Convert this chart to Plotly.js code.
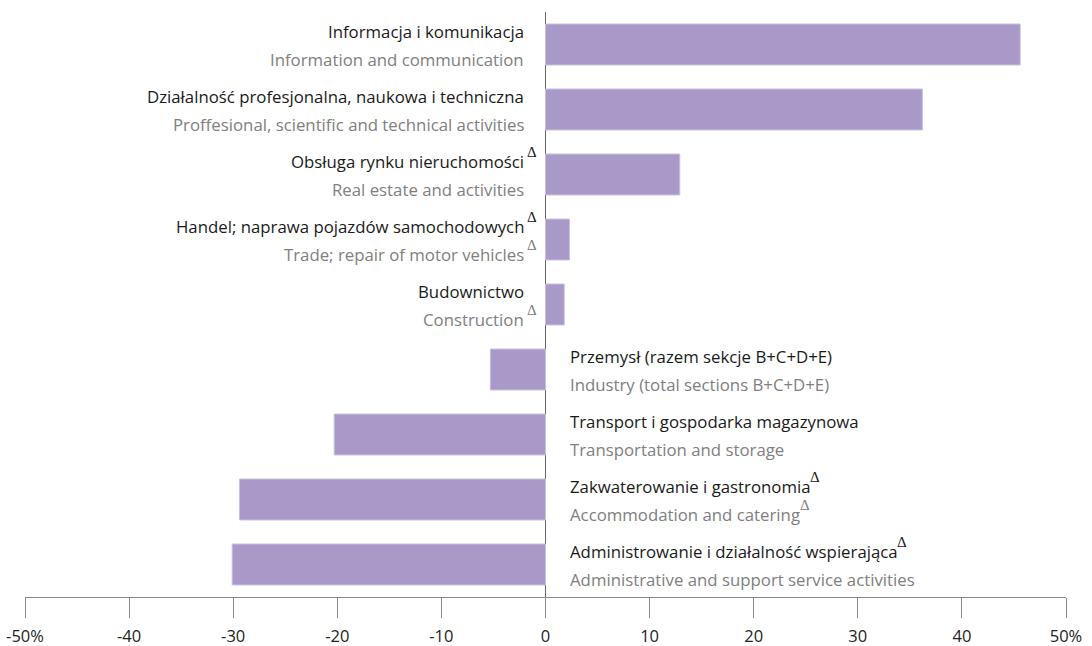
<!DOCTYPE html>
<html>
<head>
<meta charset="utf-8">
<script src="https://cdn.plot.ly/plotly-3.0.1.min.js"></script>
<style>html,body{margin:0;padding:0;background:#fff;}#chart{width:1092px;height:646px;}</style>
</head>
<body>
<div id="chart"></div>
<script>
var labelsPl = [
  "Informacja i komunikacja",
  "Działalność profesjonalna, naukowa i techniczna",
  "Obsługa rynku nieruchomości",
  "Handel; naprawa pojazdów samochodowych",
  "Budownictwo",
  "Przemysł (razem sekcje B+C+D+E)",
  "Transport i gospodarka magazynowa",
  "Zakwaterowanie i gastronomia",
  "Administrowanie i działalność wspierająca"
];
var labelsEn = [
  "Information and communication",
  "Proffesional, scientific and technical activities",
  "Real estate and activities",
  "Trade; repair of motor vehicles",
  "Construction",
  "Industry (total sections B+C+D+E)",
  "Transportation and storage",
  "Accommodation and catering",
  "Administrative and support service activities"
];
var deltaPl = [false, false, true, true, false, false, false, true, true];
var deltaEn = [false, false, false, true, true, false, false, true, false];
var values = [45.6, 36.2, 12.9, 2.3, 1.8, -5.3, -20.3, -29.4, -30.1];
var tickVals = [-50, -40, -30, -20, -10, 0, 10, 20, 30, 40, 50];
var tickText = ["-50%", "-40", "-30", "-20", "-10", "0", "10", "20", "30", "40", "50%"];

var idx = values.map(function(v, i){ return i; });
var FONT = "Open Sans, Noto Sans, sans-serif";
var annotations = [];
var DELTA = "\u0394";
var DSIZE = 15, DSHIFT = 10;
values.forEach(function(v, i){
  var pos = v >= 0;
  var rows = [
    {text: labelsPl[i], color: "#1a1a1a", yshift: 13, delta: deltaPl[i]},
    {text: labelsEn[i], color: "#808080", yshift: -15, delta: deltaEn[i]}
  ];
  rows.forEach(function(r){
    if (pos) {
      annotations.push({xref: "x", yref: "y", x: 0, y: i, xshift: -20, yshift: r.yshift,
        xanchor: "right", yanchor: "middle", showarrow: false, text: r.text,
        font: {family: FONT, size: 16.8, color: r.color}});
      if (r.delta) {
        annotations.push({xref: "x", yref: "y", x: 0, y: i, xshift: -21, yshift: r.yshift + DSHIFT,
          xanchor: "left", yanchor: "middle", showarrow: false, text: DELTA,
          font: {family: "Liberation Serif, serif", size: DSIZE, color: r.color}});
      }
    } else {
      annotations.push({xref: "x", yref: "y", x: 0, y: i, xshift: 22, yshift: r.yshift,
        xanchor: "left", yanchor: "middle", showarrow: false, text: r.text,
        font: {family: FONT, size: 16.8, color: r.color}});
    }
  });
});

var trace = {
  type: "bar", orientation: "h", x: values, y: idx, width: 0.63,
  marker: {color: "#a999c8", line: {color: "#c9bfe0", width: 1}},
  hoverinfo: "skip"
};

var layout = {
  width: 1092, height: 646,
  margin: {l: 25, r: 26, t: 12, b: 49},
  paper_bgcolor: "#fff", plot_bgcolor: "#fff",
  showlegend: false,
  xaxis: {
    range: [-50, 50], tickvals: tickVals, ticktext: tickText,
    showgrid: false, zeroline: true, zerolinecolor: "#666", zerolinewidth: 1,
    showline: true, linecolor: "#888", linewidth: 1,
    ticks: "outside", ticklen: 20, tickcolor: "#888", tickwidth: 1,
    ticklabelstandoff: 4,
    tickfont: {family: FONT, size: 16.5, color: "#222"},
    fixedrange: true
  },
  yaxis: {
    range: [8.5, -0.5], showticklabels: false, showgrid: false, zeroline: false,
    showline: false, ticks: "", fixedrange: true
  },
  annotations: annotations
};

Plotly.newPlot("chart", [trace], layout, {displayModeBar: false, staticPlot: true}).then(function(){
  var gd = document.getElementById("chart");
  var extra = [];
  values.forEach(function(v, i){
    if (v >= 0) return;
    [{d: deltaPl[i], ys: 13, c: "#1a1a1a", t: labelsPl[i]}, {d: deltaEn[i], ys: -15, c: "#808080", t: labelsEn[i]}].forEach(function(r){
      if (!r.d) return;
      var c = document.createElement("canvas").getContext("2d");
      c.font = "16.8px 'Open Sans'";
      var w = c.measureText(r.t).width;
      extra.push({xref: "x", yref: "y", x: 0, y: i, xshift: 22 + w, yshift: r.ys + DSHIFT,
        xanchor: "left", yanchor: "middle", showarrow: false, text: DELTA,
        font: {family: "Liberation Serif, serif", size: DSIZE, color: r.c}});
    });
  });
  Plotly.relayout(gd, {annotations: annotations.concat(extra)});
});
</script>
</body>
</html>
